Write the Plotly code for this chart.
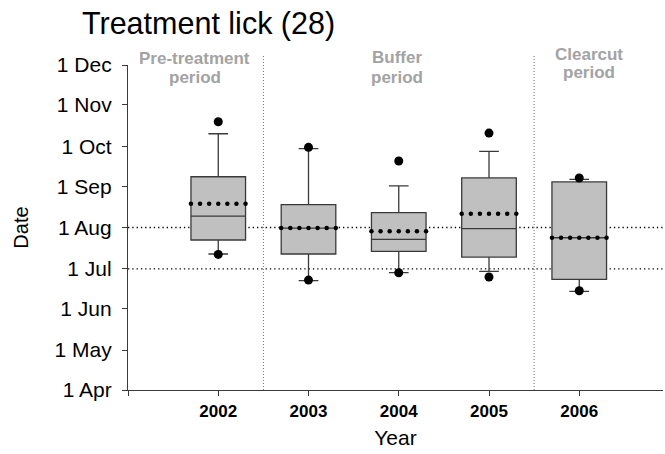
import numpy as np
import pandas as pd
import plotly.graph_objects as go

# ---------------- data (day of year, non-leap year) ----------------
years = [2002, 2003, 2004, 2005, 2006]
lower_dot = [192.8, 173.5, 179.0, 175.8, 165.5]
lower_whisker = [193.1, 173.1, 179.1, 180.0, 165.1]
q1 = [203.6, 193.1, 195.1, 190.8, 174.1]
median = [221.6, 212.6, 204.1, 212.1, 205.3]
mean = [230.9, 212.6, 210.1, 223.4, 205.3]
q3 = [251.1, 230.1, 224.1, 250.2, 247.2]
upper_whisker = [283.4, 272.2, 244.2, 270.2, 249.1]
upper_dot = [292.4, 273.2, 262.9, 283.9, 250.2]

month_starts = pd.date_range("2001-04-01", "2001-12-01", freq="MS")
ytickvals = [d.dayofyear for d in month_starts]
yticktext = [f"1 {d.strftime('%b')}" for d in month_starts]
ref_dates = pd.to_datetime(["2001-07-01", "2001-08-01"])
ref_days = [d.dayofyear for d in ref_dates]

period_bounds = [2002.5, 2005.5]
xtickvals = [2001, 2002, 2003, 2004, 2005, 2006]
xticktext = ["", "2002", "2003", "2004", "2005", "2006"]

# ---------------- layout geometry ----------------
W, H = 665, 454
L, R, T, B = 128, 2, 65, 64
plot_w = W - L - R
plot_h = H - T - B
x_range = [2001, 2001 + plot_w / 90.25]
box_w = 0.605

FONT = "Arial, Liberation Sans, sans-serif"
EDGE = "#3a3a3a"

fig = go.Figure()

for i, yr in enumerate(years):
    fig.add_trace(go.Box(
        x=[yr], q1=[q1[i]], median=[median[i]], q3=[q3[i]],
        lowerfence=[lower_whisker[i]], upperfence=[upper_whisker[i]],
        width=box_w, whiskerwidth=0.36, boxpoints=False,
        fillcolor="#c0c0c0", line=dict(color=EDGE, width=1.3),
        showlegend=False, hoverinfo="skip",
    ))

# mean as dotted line across box (markers)
mx, my = [], []
for i, yr in enumerate(years):
    xs = np.linspace(yr - box_w / 2, yr + box_w / 2, 7)
    mx += list(xs)
    my += [mean[i]] * 7
fig.add_trace(go.Scatter(x=mx, y=my, mode="markers",
                         marker=dict(color="black", size=4.5),
                         showlegend=False, hoverinfo="skip"))

# outliers (5th/95th)
fig.add_trace(go.Scatter(x=years + years, y=lower_dot + upper_dot, mode="markers",
                         marker=dict(color="black", size=9),
                         showlegend=False, hoverinfo="skip"))

# reference lines
for d in ref_days:
    fig.add_shape(type="line", xref="paper", x0=0, x1=1, yref="y", y0=d, y1=d,
                  line=dict(color="black", width=1.3, dash="1.3px,3px"), layer="below")
for xb in period_bounds:
    fig.add_shape(type="line", xref="x", x0=xb, x1=xb, yref="paper", y0=0, y1=1 + 9 / plot_h,
                  line=dict(color="#707070", width=1, dash="1px,2px"), layer="below")

# period labels
def py(p):
    return (H - B - p) / plot_h

labels = [
    ("Pre-treatment", 2001.742, 58.0), ("period", 2001.742, 77.0),
    ("Buffer", 2003.98, 57.5), ("period", 2003.98, 77.0),
    ("Clearcut", 2006.11, 54.0), ("period", 2006.11, 72.5),
]
for txt, xx, pp in labels:
    fig.add_annotation(text=f"<b>{txt}</b>", x=xx, xref="x", y=py(pp), yref="paper",
                       xanchor="center", yanchor="middle", showarrow=False,
                       font=dict(family=FONT, size=17, color="#a3a3a3"))

fig.update_layout(
    width=W, height=H,
    margin=dict(l=L, r=R, t=T, b=B),
    paper_bgcolor="white", plot_bgcolor="white",
    font=dict(family=FONT, color="black"),
    title=dict(text="Treatment lick (28)", x=82 / W, xanchor="left", xref="container",
               y=1 - 23.5 / H, yanchor="middle", yref="container",
               font=dict(family=FONT, size=30.5, color="black")),
    xaxis=dict(range=x_range, tickvals=xtickvals, ticktext=xticktext,
               tickfont=dict(family=FONT, size=17, color="black", weight="bold"),
               showgrid=False, zeroline=False, showline=True, linecolor=EDGE, linewidth=1.2,
               ticks="outside", ticklen=5, tickcolor=EDGE, tickwidth=1.2,
               title=dict(text="Year", font=dict(family=FONT, size=21), standoff=10)),
    yaxis=dict(range=[ytickvals[0], ytickvals[-1]], tickvals=ytickvals, ticktext=yticktext,
               tickfont=dict(family=FONT, size=21, color="black"),
               ticklabelstandoff=6,
               showgrid=False, zeroline=False, showline=True, linecolor=EDGE, linewidth=1.2,
               ticks="outside", ticklen=5, tickcolor=EDGE, tickwidth=1.2,
               title=dict(text="Date", font=dict(family=FONT, size=20), standoff=20)),
)

fig.write_html("out.html")
